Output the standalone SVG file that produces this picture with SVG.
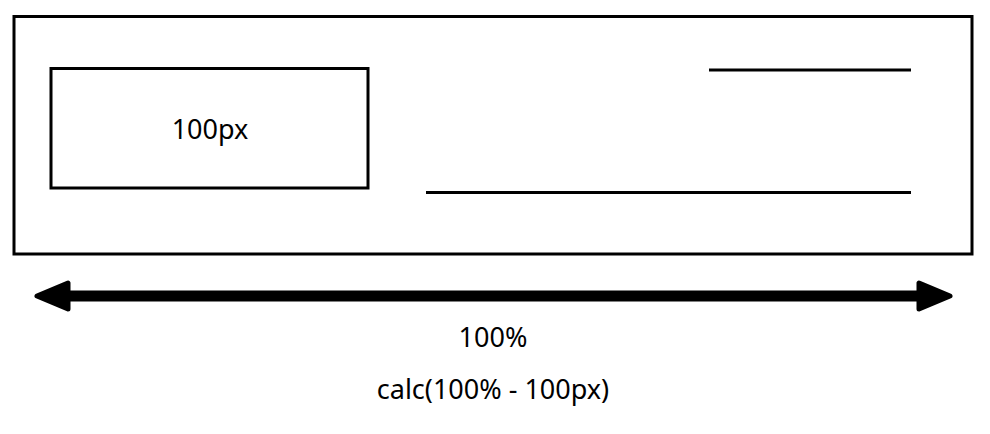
<svg xmlns="http://www.w3.org/2000/svg" width="990" height="434" viewBox="0 0 990 434">
<style>
.box{fill:none;stroke:#000;stroke-width:3}
.ln{stroke:#000;stroke-width:3;fill:none}
.t{font-family:"Noto Sans","Open Sans",sans-serif;font-size:27px;fill:#000;text-anchor:middle}
</style>
<rect width="990" height="434" fill="#fff"/>
<g id="container">
<rect class="box" x="14" y="16.5" width="958" height="237.5"/>
</g>
<g id="fixed-box">
<rect class="box" x="51" y="68.5" width="317" height="119.5"/>
<text class="t" x="210" y="139">100px</text>
</g>
<g id="text-lines">
<line class="ln" x1="709" y1="70" x2="911" y2="70"/>
<line class="ln" x1="426" y1="192.5" x2="911" y2="192.5"/>
</g>
<g id="connectors">
<line x1="66" y1="296" x2="921" y2="296" stroke="#000" stroke-width="11"/>
<path d="M37,296 L68,283 L68,309 Z" fill="#000" stroke="#000" stroke-width="5" stroke-linejoin="round"/>
<path d="M950,296 L919,283 L919,309 Z" fill="#000" stroke="#000" stroke-width="5" stroke-linejoin="round"/>
</g>
<g id="labels">
<text class="t" x="493" y="347">100%</text>
<text class="t" x="493" y="399">calc(100% - 100px)</text>
</g>
</svg>
